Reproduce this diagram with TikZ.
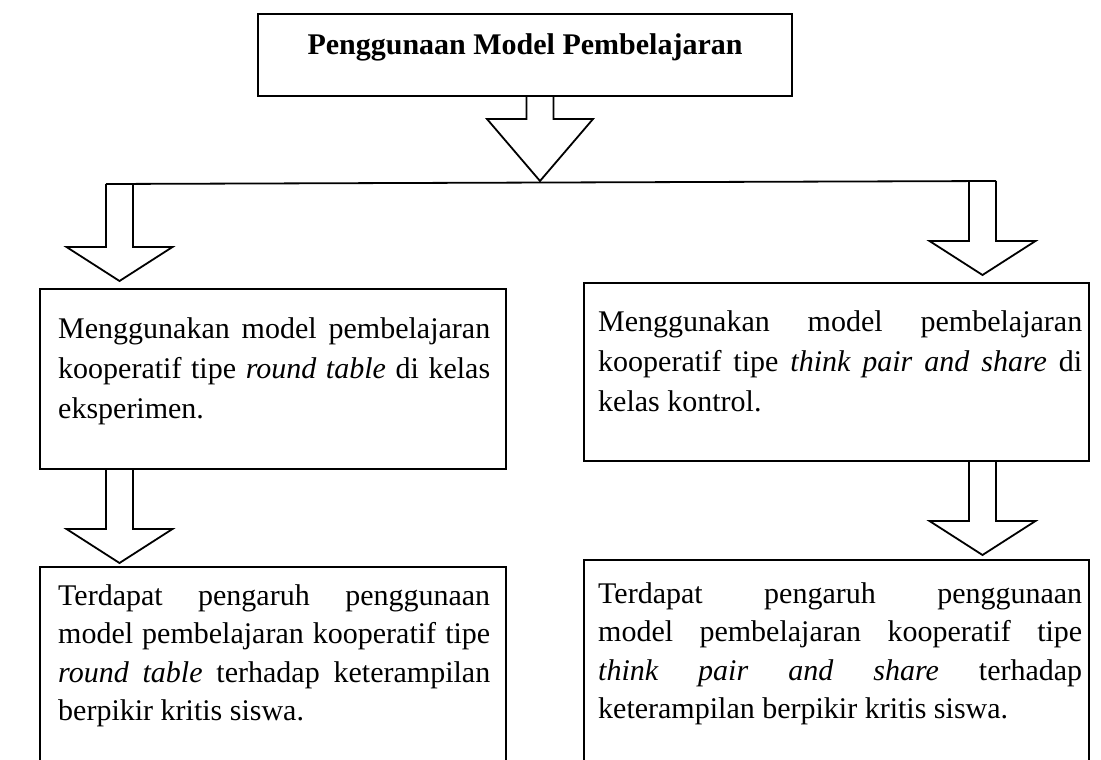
\documentclass[tikz,border=0pt]{standalone}
\usepackage{fontspec}
\setmainfont{Liberation Serif}
\usetikzlibrary{calc}

% panah blok berongga: #1 pangkal, #2 ujung, #3 panjang kepala
\newcommand{\panah}[3]{%
  \draw[garis] ($(#1)+(-13.5,0)$) -- ($(#2)+(-13.5,-#3)$) -- ($(#2)+(-53,-#3)$)
    -- (#2) -- ($(#2)+(53,-#3)$) -- ($(#2)+(13.5,-#3)$) -- ($(#1)+(13.5,0)$);
}

\begin{document}
\begin{tikzpicture}[x=1pt, y=-1pt,
    kotak/.style={draw, line width=1.8pt, inner sep=0pt, anchor=north west},
    isi/.style={text width=#1, align=justify, inner sep=0pt, anchor=base west,
        font=\fontsize{30}{40}\selectfont},
    isirapat/.style={isi=#1, font=\fontsize{30}{38.5}\selectfont},
    garis/.style={line width=1.8pt, line join=miter}
  ]
  \clip (0,0) rectangle (1101,760);

  % judul
  \node[kotak, anchor=north, minimum width=534, text height=41, text depth=41,
      font=\fontsize{30}{40}\selectfont\bfseries] (judul) at (525,13) {Penggunaan Model Pembelajaran};

  % kotak-kotak
  \node[kotak, minimum width=466, minimum height=180] (kiri1) at (39,288) {};
  \node[kotak, minimum width=505, minimum height=178] (kanan1) at (583,282) {};
  \node[kotak, minimum width=466, minimum height=230] (kiri2) at (39,566) {};
  \node[kotak, minimum width=505, minimum height=230] (kanan2) at (583,559) {};

  % isi kotak
  \node[isi=432] (tkiri1) at ($(kiri1.north west)+(19,50)$)
    {Menggunakan model pembelajaran\linebreak kooperatif tipe \textit{round table} di kelas\linebreak eksperimen.};
  \node[isi=484] (tkanan1) at ($(kanan1.north west)+(15,49)$)
    {Menggunakan model pembelajaran\linebreak kooperatif tipe \textit{think pair and share} di\linebreak kelas kontrol.};
  \node[isirapat=432] (tkiri2) at ($(kiri2.north west)+(19,39)$)
    {Terdapat pengaruh penggunaan\linebreak model pembelajaran kooperatif tipe\linebreak \textit{round table} terhadap keterampilan\linebreak berpikir kritis siswa.};
  \node[isirapat=484] (tkanan2) at ($(kanan2.north west)+(15,44)$)
    {Terdapat pengaruh penggunaan\linebreak model pembelajaran kooperatif tipe\linebreak \textit{think pair and share} terhadap\linebreak keterampilan berpikir kritis siswa.};

  % percabangan
  \coordinate (pangkal) at ($(judul.south)+(15,0)$);
  \coordinate (cabang) at (540,181);
  \coordinate (ujungkiri) at (106,184);
  \coordinate (ujungkanan) at (996,181);
  \draw[garis] (ujungkiri) -- (ujungkanan);
  \panah{pangkal}{cabang}{62}

  \coordinate (a1) at ($(ujungkiri)+(13.5,0)$);
  \coordinate (b1) at ($(a1 |- kiri1.north)+(0,-7)$);
  \panah{a1}{b1}{34}
  \coordinate (a2) at ($(ujungkanan)+(-13.5,0)$);
  \coordinate (b2) at ($(a2 |- kanan1.north)+(0,-7)$);
  \panah{a2}{b2}{34}

  \coordinate (a3) at (a1 |- kiri1.south);
  \coordinate (b3) at ($(a1 |- kiri2.north)+(0,-3)$);
  \panah{a3}{b3}{34}
  \coordinate (a4) at (a2 |- kanan1.south);
  \coordinate (b4) at ($(a2 |- kanan2.north)+(0,-4)$);
  \panah{a4}{b4}{34}
\end{tikzpicture}
\end{document}
